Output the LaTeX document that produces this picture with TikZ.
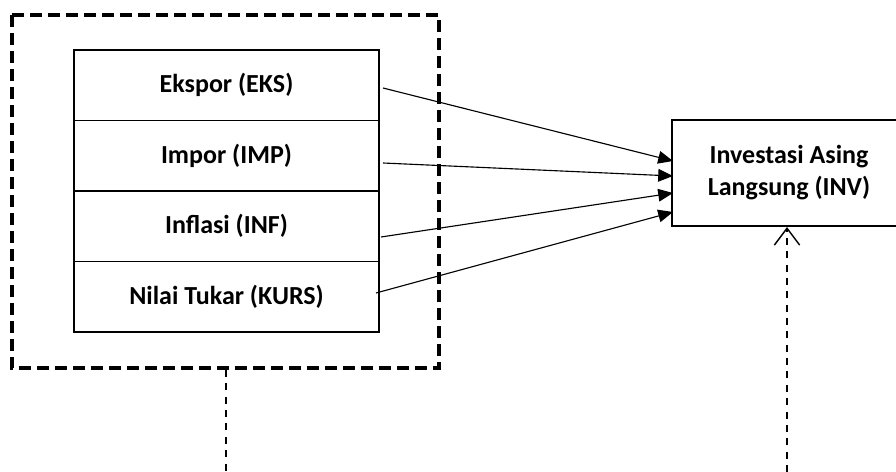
\documentclass[tikz,border=0pt]{standalone}
\usepackage{fontspec}
\setmainfont{Carlito}
\usetikzlibrary{arrows.meta}

\tikzset{
  varbox/.style={draw, line width=1.3pt, minimum width=7.625cm, minimum height=1.765cm,
    inner sep=0pt, font=\bfseries\fontsize{18.5}{22.7}\selectfont},
  invbox/.style={draw, line width=1.5pt, minimum width=5.85cm, minimum height=2.65cm,
    align=center, font=\bfseries\fontsize{18.5}{22.7}\selectfont},
  effect/.style={line width=0.8pt, -{Triangle[length=10.5pt,width=9pt]}},
  groupline/.style={line width=2.5pt, dash pattern=on 8.5pt off 4.3pt},
  linkline/.style={line width=0.8pt, dash pattern=on 5pt off 4.5pt}
}

\begin{document}
\begin{tikzpicture}[x=0.025cm, y=-0.025cm]
    \useasboundingbox (0,0) rectangle (896,472);

% independent variables
    \node[varbox] (EKS) at (226.5,85.25) {Ekspor (EKS)};
    \node[varbox] (IMP) at (226.5,155.75) {Impor (IMP)};
    \node[varbox] (INF) at (226.5,226.25) {Inflasi (INF)};
    \node[varbox] (KURS) at (226.5,296.75) {Nilai Tukar (KURS)};

% group frame
    \coordinate (G1) at (12,15);
    \coordinate (G2) at (439,368);
    \draw[groupline] (G1) rectangle (G2);

% dependent variable
    \node[invbox] (INV) at (789,173) {Investasi Asing\\Langsung (INV)};

% arrows
    \coordinate (EKSout) at (383,88);
    \coordinate (IMPout) at (383,163);
    \coordinate (INFout) at (381,237);
    \coordinate (KURSout) at (376,293);
    \coordinate (INVin1) at (673,161);
    \coordinate (INVin2) at (673,176);
    \coordinate (INVin3) at (673,193);
    \coordinate (INVin4) at (673,212);

    \draw[effect] (EKSout) -- (INVin1);
    \draw[effect] (IMPout) -- (INVin2);
    \draw[effect] (INFout) -- (INVin3);
    \draw[effect] (KURSout) -- (INVin4);

% dashed links
    \coordinate (Gdown) at (226,370);
    \coordinate (Gend) at (226,472);
    \coordinate (Vend) at (787,472);

    \draw[linkline] (Gdown) -- (Gend);
    \draw[linkline, -{Straight Barb[length=12pt,width=18pt,line width=1pt]}] (Vend) -- (INV.south -| Vend);

\end{tikzpicture}
\end{document}
